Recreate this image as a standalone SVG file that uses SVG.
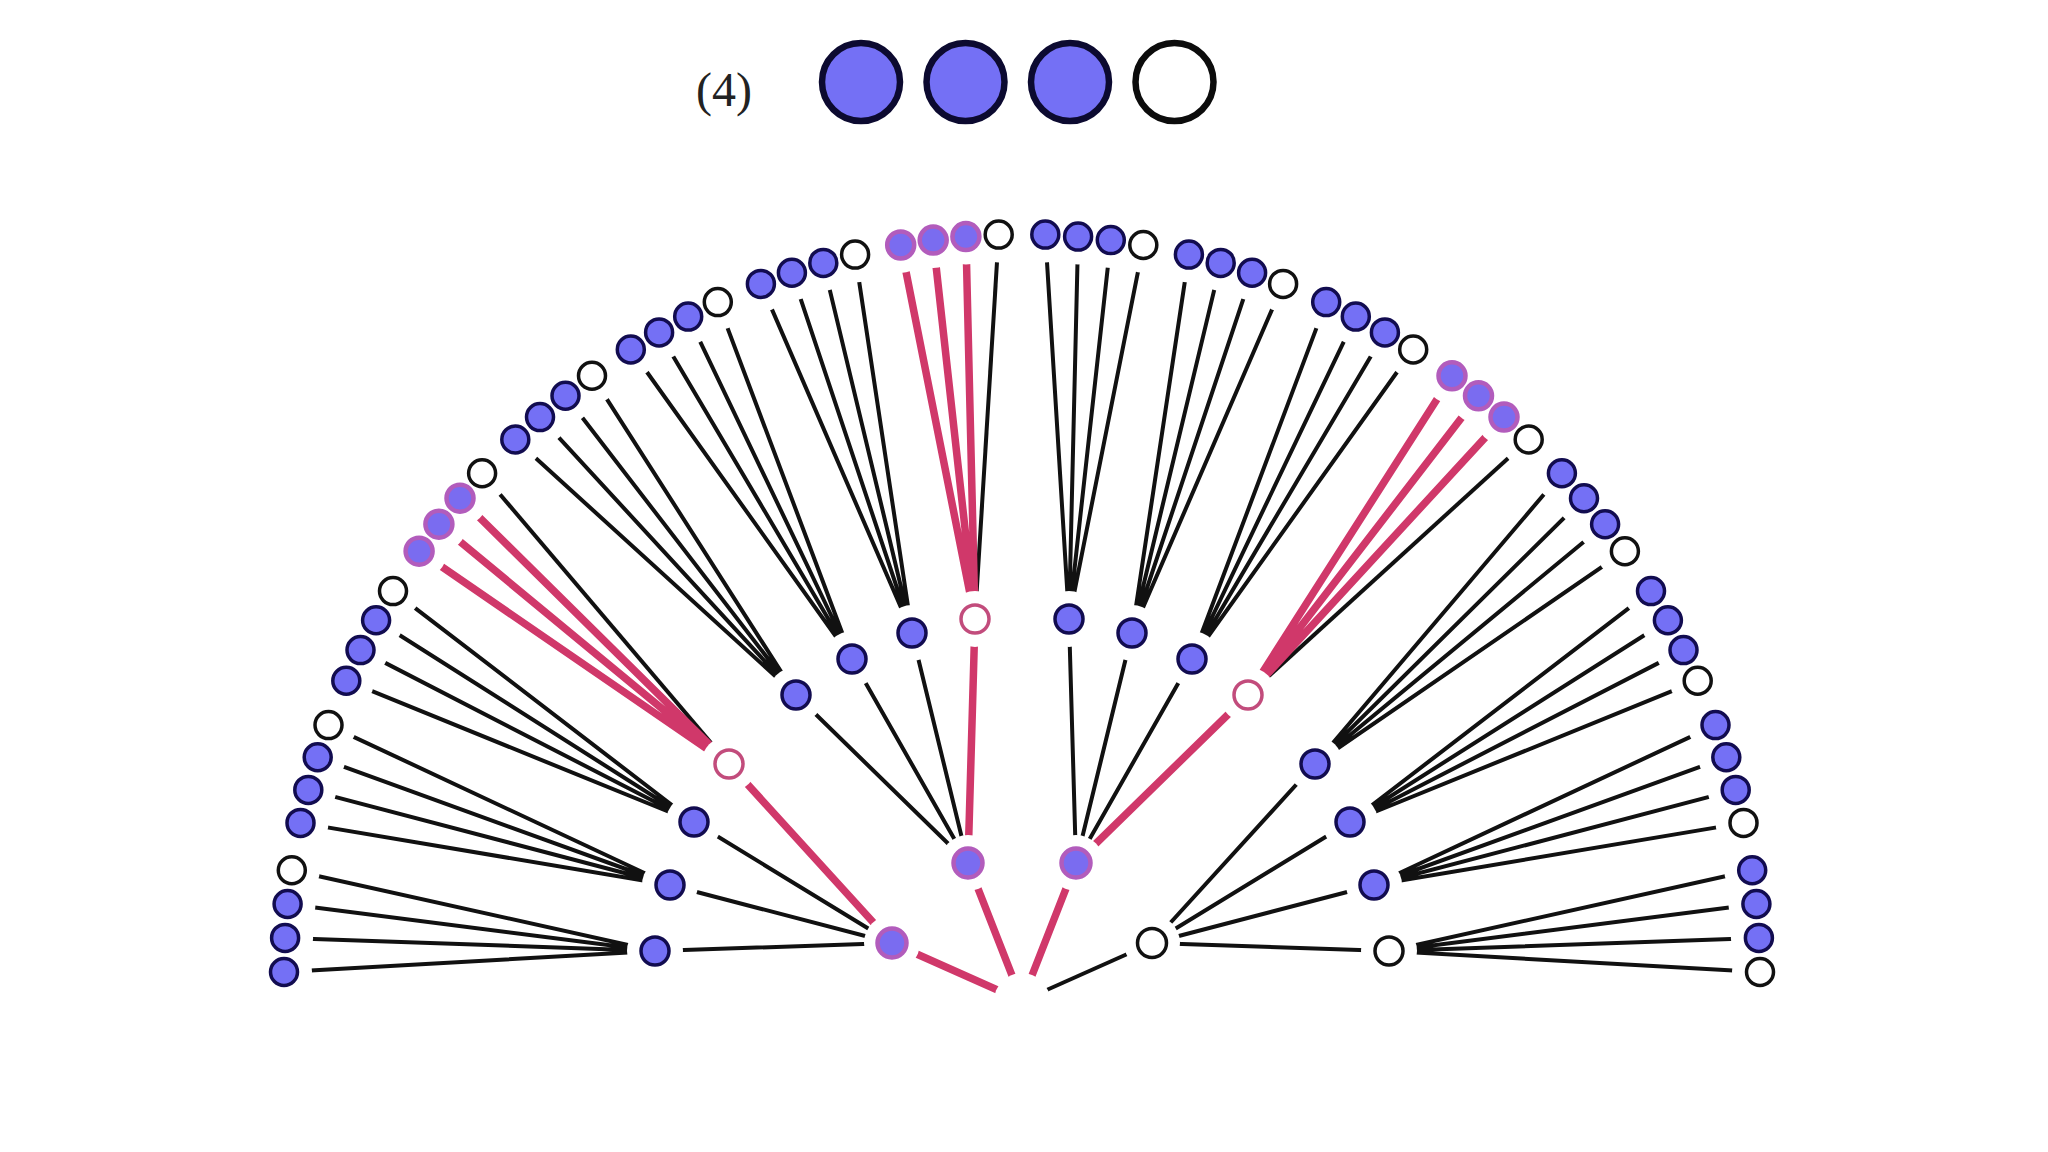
<svg xmlns="http://www.w3.org/2000/svg" width="2048" height="1152" viewBox="0 0 2048 1152">
<defs>
<style>
.b{fill:#7470f5;stroke:#120c50;stroke-width:3.5}
.o{fill:#fff;stroke:#111;stroke-width:3.5}
.rl{fill:#7a6cf0;stroke:#b25cbc;stroke-width:4.5}
.ro{fill:#fff;stroke:#c24c7c;stroke-width:3.5}
.e{fill:none;stroke:#111;stroke-width:4}
.r{fill:none;stroke:#d0386a;stroke-width:7.5}
.hb{fill:#7470f5;stroke:#0c0a30;stroke-width:6.5}
.ho{fill:#fff;stroke:#0c0c0c;stroke-width:6.5}
.t{font-family:"Liberation Serif",serif;font-size:48px;fill:#222}
</style>
<mask id="gap" maskUnits="userSpaceOnUse" x="0" y="0" width="2048" height="1152">
<rect width="2048" height="1152" fill="#fff"/>
<g fill="#000">
<circle cx="1022" cy="1001" r="28"/>
<circle cx="892" cy="943" r="28"/><circle cx="968" cy="863" r="28"/><circle cx="1076" cy="863" r="28"/><circle cx="1152" cy="943" r="28"/>
<circle cx="655" cy="951" r="28"/><circle cx="670" cy="885" r="28"/><circle cx="694" cy="822" r="28"/><circle cx="729" cy="764" r="28"/>
<circle cx="796" cy="695" r="28"/><circle cx="852" cy="659" r="28"/><circle cx="912" cy="633" r="28"/><circle cx="975" cy="619" r="28"/>
<circle cx="1069" cy="619" r="28"/><circle cx="1132" cy="633" r="28"/><circle cx="1192" cy="659" r="28"/><circle cx="1248" cy="695" r="28"/>
<circle cx="1315" cy="764" r="28"/><circle cx="1350" cy="822" r="28"/><circle cx="1374" cy="885" r="28"/><circle cx="1389" cy="951" r="28"/>
<circle cx="284" cy="972" r="28"/><circle cx="285.1" cy="937.9" r="28"/><circle cx="287.6" cy="904" r="28"/><circle cx="291.8" cy="870.2" r="28"/>
<circle cx="300.5" cy="822.9" r="28"/><circle cx="308.3" cy="789.9" r="28"/><circle cx="317.7" cy="757.3" r="28"/><circle cx="328.5" cy="725.1" r="28"/>
<circle cx="346.3" cy="680.7" r="28"/><circle cx="360.5" cy="650.1" r="28"/><circle cx="376.1" cy="620.2" r="28"/><circle cx="393" cy="591.1" r="28"/>
<circle cx="419.1" cy="551.2" r="28"/><circle cx="438.9" cy="524.2" r="28"/><circle cx="460" cy="498.2" r="28"/><circle cx="482.1" cy="473.2" r="28"/>
<circle cx="515.3" cy="439.5" r="28"/><circle cx="540" cy="417.1" r="28"/><circle cx="565.5" cy="395.8" r="28"/><circle cx="592" cy="375.8" r="28"/>
<circle cx="630.8" cy="349.5" r="28"/><circle cx="659.1" cy="332.4" r="28"/><circle cx="688.2" cy="316.6" r="28"/><circle cx="717.8" cy="302.1" r="28"/>
<circle cx="760.9" cy="283.9" r="28"/><circle cx="791.9" cy="272.7" r="28"/><circle cx="823.3" cy="262.9" r="28"/><circle cx="855.1" cy="254.6" r="28"/>
<circle cx="900.7" cy="245" r="28"/><circle cx="933.2" cy="240.1" r="28"/><circle cx="965.9" cy="236.6" r="28"/><circle cx="998.7" cy="234.6" r="28"/>
<circle cx="1045.3" cy="234.6" r="28"/><circle cx="1078.1" cy="236.6" r="28"/><circle cx="1110.8" cy="240.1" r="28"/><circle cx="1143.3" cy="245" r="28"/>
<circle cx="1188.9" cy="254.6" r="28"/><circle cx="1220.7" cy="262.9" r="28"/><circle cx="1252.1" cy="272.7" r="28"/><circle cx="1283.1" cy="283.9" r="28"/>
<circle cx="1326.2" cy="302.1" r="28"/><circle cx="1355.8" cy="316.6" r="28"/><circle cx="1384.9" cy="332.4" r="28"/><circle cx="1413.2" cy="349.5" r="28"/>
<circle cx="1452" cy="375.8" r="28"/><circle cx="1478.5" cy="395.8" r="28"/><circle cx="1504" cy="417.1" r="28"/><circle cx="1528.7" cy="439.5" r="28"/>
<circle cx="1561.9" cy="473.2" r="28"/><circle cx="1584" cy="498.2" r="28"/><circle cx="1605.1" cy="524.2" r="28"/><circle cx="1624.9" cy="551.2" r="28"/>
<circle cx="1651" cy="591.1" r="28"/><circle cx="1667.9" cy="620.2" r="28"/><circle cx="1683.5" cy="650.1" r="28"/><circle cx="1697.7" cy="680.7" r="28"/>
<circle cx="1715.5" cy="725.1" r="28"/><circle cx="1726.3" cy="757.3" r="28"/><circle cx="1735.7" cy="789.9" r="28"/><circle cx="1743.5" cy="822.9" r="28"/>
<circle cx="1752.2" cy="870.2" r="28"/><circle cx="1756.4" cy="904" r="28"/><circle cx="1758.9" cy="937.9" r="28"/><circle cx="1760" cy="972" r="28"/>
</g>
</mask>
</defs>
<rect width="2048" height="1152" fill="#fff"/>

<g id="header">
<text class="t" x="724" y="106" text-anchor="middle">(4)</text>
<circle class="hb" cx="861" cy="82" r="39"/>
<circle class="hb" cx="965.5" cy="82" r="39"/>
<circle class="hb" cx="1070" cy="82" r="39"/>
<circle class="ho" cx="1174.5" cy="82" r="39"/>
</g>

<g id="connectors" mask="url(#gap)">
<g id="black-edges">
<path class="e" d="M284 972L655 951M285.1 937.9L655 951M287.6 904L655 951M291.8 870.2L655 951"/>
<path class="e" d="M300.5 822.9L670 885M308.3 789.9L670 885M317.7 757.3L670 885M328.5 725.1L670 885"/>
<path class="e" d="M346.3 680.7L694 822M360.5 650.1L694 822M376.1 620.2L694 822M393 591.1L694 822"/>
<path class="e" d="M482.1 473.2L729 764"/>
<path class="e" d="M515.3 439.5L796 695M540 417.1L796 695M565.5 395.8L796 695M592 375.8L796 695"/>
<path class="e" d="M630.8 349.5L852 659M659.1 332.4L852 659M688.2 316.6L852 659M717.8 302.1L852 659"/>
<path class="e" d="M760.9 283.9L912 633M791.9 272.7L912 633M823.3 262.9L912 633M855.1 254.6L912 633"/>
<path class="e" d="M998.7 234.6L975 619"/>
<path class="e" d="M1045.3 234.6L1069 619M1078.1 236.6L1069 619M1110.8 240.1L1069 619M1143.3 245L1069 619"/>
<path class="e" d="M1188.9 254.6L1132 633M1220.7 262.9L1132 633M1252.1 272.7L1132 633M1283.1 283.9L1132 633"/>
<path class="e" d="M1326.2 302.1L1192 659M1355.8 316.6L1192 659M1384.9 332.4L1192 659M1413.2 349.5L1192 659"/>
<path class="e" d="M1528.7 439.5L1248 695"/>
<path class="e" d="M1561.9 473.2L1315 764M1584 498.2L1315 764M1605.1 524.2L1315 764M1624.9 551.2L1315 764"/>
<path class="e" d="M1651 591.1L1350 822M1667.9 620.2L1350 822M1683.5 650.1L1350 822M1697.7 680.7L1350 822"/>
<path class="e" d="M1715.5 725.1L1374 885M1726.3 757.3L1374 885M1735.7 789.9L1374 885M1743.5 822.9L1374 885"/>
<path class="e" d="M1752.2 870.2L1389 951M1756.4 904L1389 951M1758.9 937.9L1389 951M1760 972L1389 951"/>
<path class="e" d="M655 951L892 943M670 885L892 943M694 822L892 943"/>
<path class="e" d="M796 695L968 863M852 659L968 863M912 633L968 863"/>
<path class="e" d="M1069 619L1076 863M1132 633L1076 863M1192 659L1076 863"/>
<path class="e" d="M1315 764L1152 943M1350 822L1152 943M1374 885L1152 943M1389 951L1152 943"/>
<path class="e" d="M1152 943L1022 1001"/>
</g>
<g id="red-edges">
<path class="r" d="M419.1 551.2L729 764M438.9 524.2L729 764M460 498.2L729 764"/>
<path class="r" d="M900.7 245L975 619M933.2 240.1L975 619M965.9 236.6L975 619"/>
<path class="r" d="M1452 375.8L1248 695M1478.5 395.8L1248 695M1504 417.1L1248 695"/>
<path class="r" d="M729 764L892 943M975 619L968 863M1248 695L1076 863"/>
<path class="r" d="M892 943L1022 1001M968 863L1022 1001M1076 863L1022 1001"/>
</g>
</g>

<g id="level1">
<g id="n0"><circle class="rl" cx="892" cy="943" r="14.5"/></g>
<g id="n1"><circle class="rl" cx="968" cy="863" r="14.5"/></g>
<g id="n2"><circle class="rl" cx="1076" cy="863" r="14.5"/></g>
<g id="n3"><circle class="o" cx="1152" cy="943" r="14.5"/></g>
</g>

<g id="level2">
<g id="m0"><circle class="b" cx="655" cy="951" r="14"/></g>
<g id="m1"><circle class="b" cx="670" cy="885" r="14"/></g>
<g id="m2"><circle class="b" cx="694" cy="822" r="14"/></g>
<g id="m3"><circle class="ro" cx="729" cy="764" r="14"/></g>
<g id="m4"><circle class="b" cx="796" cy="695" r="14"/></g>
<g id="m5"><circle class="b" cx="852" cy="659" r="14"/></g>
<g id="m6"><circle class="b" cx="912" cy="633" r="14"/></g>
<g id="m7"><circle class="ro" cx="975" cy="619" r="14"/></g>
<g id="m8"><circle class="b" cx="1069" cy="619" r="14"/></g>
<g id="m9"><circle class="b" cx="1132" cy="633" r="14"/></g>
<g id="m10"><circle class="b" cx="1192" cy="659" r="14"/></g>
<g id="m11"><circle class="ro" cx="1248" cy="695" r="14"/></g>
<g id="m12"><circle class="b" cx="1315" cy="764" r="14"/></g>
<g id="m13"><circle class="b" cx="1350" cy="822" r="14"/></g>
<g id="m14"><circle class="b" cx="1374" cy="885" r="14"/></g>
<g id="m15"><circle class="o" cx="1389" cy="951" r="14"/></g>
</g>

<g id="leaves">
<g id="l0"><circle class="b" cx="284" cy="972" r="13.5"/></g>
<g id="l1"><circle class="b" cx="285.1" cy="937.9" r="13.5"/></g>
<g id="l2"><circle class="b" cx="287.6" cy="904" r="13.5"/></g>
<g id="l3"><circle class="o" cx="291.8" cy="870.2" r="13.5"/></g>
<g id="l4"><circle class="b" cx="300.5" cy="822.9" r="13.5"/></g>
<g id="l5"><circle class="b" cx="308.3" cy="789.9" r="13.5"/></g>
<g id="l6"><circle class="b" cx="317.7" cy="757.3" r="13.5"/></g>
<g id="l7"><circle class="o" cx="328.5" cy="725.1" r="13.5"/></g>
<g id="l8"><circle class="b" cx="346.3" cy="680.7" r="13.5"/></g>
<g id="l9"><circle class="b" cx="360.5" cy="650.1" r="13.5"/></g>
<g id="l10"><circle class="b" cx="376.1" cy="620.2" r="13.5"/></g>
<g id="l11"><circle class="o" cx="393" cy="591.1" r="13.5"/></g>
<g id="l12"><circle class="rl" cx="419.1" cy="551.2" r="13.5"/></g>
<g id="l13"><circle class="rl" cx="438.9" cy="524.2" r="13.5"/></g>
<g id="l14"><circle class="rl" cx="460" cy="498.2" r="13.5"/></g>
<g id="l15"><circle class="o" cx="482.1" cy="473.2" r="13.5"/></g>
<g id="l16"><circle class="b" cx="515.3" cy="439.5" r="13.5"/></g>
<g id="l17"><circle class="b" cx="540" cy="417.1" r="13.5"/></g>
<g id="l18"><circle class="b" cx="565.5" cy="395.8" r="13.5"/></g>
<g id="l19"><circle class="o" cx="592" cy="375.8" r="13.5"/></g>
<g id="l20"><circle class="b" cx="630.8" cy="349.5" r="13.5"/></g>
<g id="l21"><circle class="b" cx="659.1" cy="332.4" r="13.5"/></g>
<g id="l22"><circle class="b" cx="688.2" cy="316.6" r="13.5"/></g>
<g id="l23"><circle class="o" cx="717.8" cy="302.1" r="13.5"/></g>
<g id="l24"><circle class="b" cx="760.9" cy="283.9" r="13.5"/></g>
<g id="l25"><circle class="b" cx="791.9" cy="272.7" r="13.5"/></g>
<g id="l26"><circle class="b" cx="823.3" cy="262.9" r="13.5"/></g>
<g id="l27"><circle class="o" cx="855.1" cy="254.6" r="13.5"/></g>
<g id="l28"><circle class="rl" cx="900.7" cy="245" r="13.5"/></g>
<g id="l29"><circle class="rl" cx="933.2" cy="240.1" r="13.5"/></g>
<g id="l30"><circle class="rl" cx="965.9" cy="236.6" r="13.5"/></g>
<g id="l31"><circle class="o" cx="998.7" cy="234.6" r="13.5"/></g>
<g id="l32"><circle class="b" cx="1045.3" cy="234.6" r="13.5"/></g>
<g id="l33"><circle class="b" cx="1078.1" cy="236.6" r="13.5"/></g>
<g id="l34"><circle class="b" cx="1110.8" cy="240.1" r="13.5"/></g>
<g id="l35"><circle class="o" cx="1143.3" cy="245" r="13.5"/></g>
<g id="l36"><circle class="b" cx="1188.9" cy="254.6" r="13.5"/></g>
<g id="l37"><circle class="b" cx="1220.7" cy="262.9" r="13.5"/></g>
<g id="l38"><circle class="b" cx="1252.1" cy="272.7" r="13.5"/></g>
<g id="l39"><circle class="o" cx="1283.1" cy="283.9" r="13.5"/></g>
<g id="l40"><circle class="b" cx="1326.2" cy="302.1" r="13.5"/></g>
<g id="l41"><circle class="b" cx="1355.8" cy="316.6" r="13.5"/></g>
<g id="l42"><circle class="b" cx="1384.9" cy="332.4" r="13.5"/></g>
<g id="l43"><circle class="o" cx="1413.2" cy="349.5" r="13.5"/></g>
<g id="l44"><circle class="rl" cx="1452" cy="375.8" r="13.5"/></g>
<g id="l45"><circle class="rl" cx="1478.5" cy="395.8" r="13.5"/></g>
<g id="l46"><circle class="rl" cx="1504" cy="417.1" r="13.5"/></g>
<g id="l47"><circle class="o" cx="1528.7" cy="439.5" r="13.5"/></g>
<g id="l48"><circle class="b" cx="1561.9" cy="473.2" r="13.5"/></g>
<g id="l49"><circle class="b" cx="1584" cy="498.2" r="13.5"/></g>
<g id="l50"><circle class="b" cx="1605.1" cy="524.2" r="13.5"/></g>
<g id="l51"><circle class="o" cx="1624.9" cy="551.2" r="13.5"/></g>
<g id="l52"><circle class="b" cx="1651" cy="591.1" r="13.5"/></g>
<g id="l53"><circle class="b" cx="1667.9" cy="620.2" r="13.5"/></g>
<g id="l54"><circle class="b" cx="1683.5" cy="650.1" r="13.5"/></g>
<g id="l55"><circle class="o" cx="1697.7" cy="680.7" r="13.5"/></g>
<g id="l56"><circle class="b" cx="1715.5" cy="725.1" r="13.5"/></g>
<g id="l57"><circle class="b" cx="1726.3" cy="757.3" r="13.5"/></g>
<g id="l58"><circle class="b" cx="1735.7" cy="789.9" r="13.5"/></g>
<g id="l59"><circle class="o" cx="1743.5" cy="822.9" r="13.5"/></g>
<g id="l60"><circle class="b" cx="1752.2" cy="870.2" r="13.5"/></g>
<g id="l61"><circle class="b" cx="1756.4" cy="904" r="13.5"/></g>
<g id="l62"><circle class="b" cx="1758.9" cy="937.9" r="13.5"/></g>
<g id="l63"><circle class="o" cx="1760" cy="972" r="13.5"/></g>
</g>
</svg>
